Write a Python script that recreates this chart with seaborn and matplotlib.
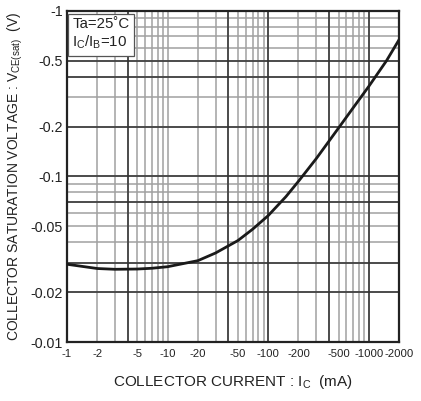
import numpy as np
import pandas as pd
import seaborn as sns
import matplotlib.pyplot as plt
from matplotlib.ticker import FixedLocator, FixedFormatter, NullFormatter

# collector current (mA) and saturation voltage (V) (magnitudes)
ic = [1, 2, 3, 5, 7, 10, 20, 30, 50, 70, 100, 150, 200, 300, 500, 700, 1000, 1500, 2000]
vce = [0.0295, 0.0278, 0.0275, 0.0276, 0.0279, 0.0285, 0.031, 0.0345, 0.041, 0.048,
       0.058, 0.0755, 0.0935, 0.128, 0.196, 0.26, 0.35, 0.50, 0.67]

x_ticks = [1, 2, 5, 10, 20, 50, 100, 200, 500, 1000, 2000]
x_labels = ['-1', '-2', '-5', '-10', '-20', '-50', '-100', '-200', '-500', '-1000', '-2000']
y_ticks = [0.01, 0.02, 0.05, 0.1, 0.2, 0.5, 1]
y_labels = ['-0.01', '-0.02', '-0.05', '-0.1', '-0.2', '-0.5', '-1']

# darker grid lines in the printed sheet
x_dark = [4, 40, 100, 400, 1000]
y_dark = [0.02, 0.03, 0.07, 0.1, 0.2, 0.4, 0.5]

df = pd.DataFrame({'ic': ic, 'vce': vce})

sns.set_style('white')
plt.rcParams['font.family'] = ['Liberation Sans', 'DejaVu Sans']
plt.rcParams['mathtext.fontset'] = 'custom'
plt.rcParams['mathtext.rm'] = 'Liberation Sans'
plt.rcParams['mathtext.it'] = 'Liberation Sans'
plt.rcParams['mathtext.bf'] = 'Liberation Sans'

fig = plt.figure(figsize=(4.21, 4.01), dpi=100)
ax = fig.add_axes([0.159, 0.147, 0.789, 0.826])

# minor log grid
minor_x = [m * 10 ** e for e in range(0, 4) for m in range(1, 10) if m * 10 ** e <= 2000]
minor_y = [m * 10 ** e for e in range(-2, 0) for m in range(1, 10)]
for v in minor_x:
    ax.axvline(v, color='#a0a0a0', lw=1.1, zorder=1)
for v in minor_y:
    ax.axhline(v, color='#a0a0a0', lw=1.1, zorder=1)
for v in x_dark:
    ax.axvline(v, color='#303030', lw=1.1, zorder=1.5)
for v in y_dark:
    ax.axhline(v, color='#303030', lw=1.1, zorder=1.5)

sns.lineplot(data=df, x='ic', y='vce', color='#1a1a1a', lw=2.0, ax=ax, zorder=3)

ax.set_xscale('log')
ax.set_yscale('log')
ax.set_xlim(1, 2000)
ax.set_ylim(0.01, 1)

ax.xaxis.set_major_locator(FixedLocator(x_ticks))
ax.xaxis.set_major_formatter(FixedFormatter(x_labels))
ax.xaxis.set_minor_formatter(NullFormatter())
ax.yaxis.set_major_locator(FixedLocator(y_ticks))
ax.yaxis.set_major_formatter(FixedFormatter(y_labels))
ax.yaxis.set_minor_formatter(NullFormatter())
ax.tick_params(axis='both', which='both', length=0)
ax.tick_params(axis='x', labelsize=8.2, pad=5)
ax.tick_params(axis='y', labelsize=10.3, pad=3)
for lab in ax.get_xticklabels() + ax.get_yticklabels():
    lab.set_color('#222222')

for s in ax.spines.values():
    s.set_linewidth(1.6)
    s.set_color('#222222')

ax.set_xlabel('COLLECTOR CURRENT : I$_\\mathrm{C}$  (mA)', fontsize=11, labelpad=10, color='#222222')
ax.set_ylabel('COLLECTOR SATURATION VOLTAGE : V$_\\mathrm{CE(sat)}$  (V)', fontsize=10,
              labelpad=4, color='#222222')

ax.text(0.016, 0.982, 'Ta=25\u02daC\nI$_\\mathrm{C}$/I$_\\mathrm{B}$=10', transform=ax.transAxes,
        ha='left', va='top', fontsize=10.8, color='#222222', zorder=5, linespacing=1.25,
        bbox=dict(boxstyle='square,pad=0.3', fc='white', ec='#555555', lw=0.9))

fig.savefig('out.png', dpi=100)
